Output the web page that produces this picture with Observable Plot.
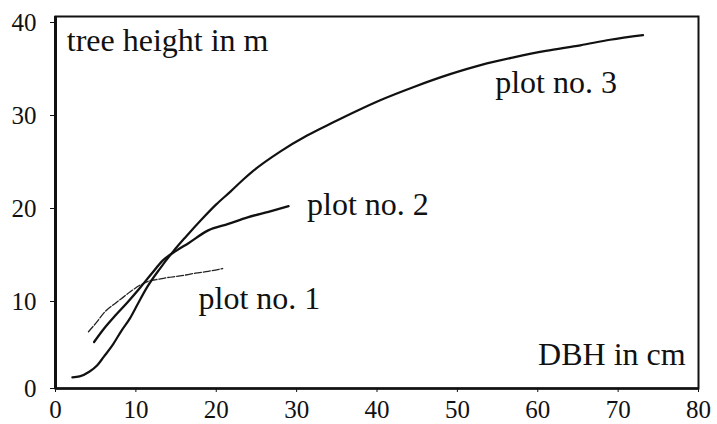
<!DOCTYPE html>
<html>
<head>
<meta charset="utf-8">
<script src="https://cdn.jsdelivr.net/npm/d3@7"></script>
<script src="https://cdn.jsdelivr.net/npm/@observablehq/plot@0.6"></script>
<style>
  html, body { margin: 0; padding: 0; background: #fff; }
  #chart svg { display: block; font-family: 'Liberation Serif', 'Times New Roman', serif; }
  #chart svg text { font-family: 'Liberation Serif', 'Times New Roman', serif; }
</style>
</head>
<body>
<div id="chart"></div>
<script>
// Plot no. 1 (thin, broken line)
const plot1Dbh = [4.1, 5.0, 6.2, 7.5, 8.4, 9.3, 10.5, 11.8, 12.5, 13.7, 15.5, 17.4, 19.0, 20.8];
const plot1H   = [6.1, 7.0, 8.3, 9.2, 9.8, 10.4, 11.1, 11.6, 11.7, 11.9, 12.1, 12.4, 12.6, 12.9];

// Plot no. 2 (medium, jagged line)
const plot2Dbh = [4.8, 6.0, 7.5, 9.0, 10.5, 12.0, 13.4, 15.0, 16.5, 19.0, 21.5, 23.9, 26.5, 29.0];
const plot2H   = [5.0, 6.4, 7.9, 9.3, 10.8, 12.4, 13.8, 14.8, 15.6, 17.0, 17.7, 18.4, 19.0, 19.6];

// Plot no. 3 (thick solid line)
const plot3Dbh = [2.1, 3.0, 4.2, 5.2, 6.0, 7.2, 8.2, 9.3, 10.3, 11.4, 13.0, 14.7, 16.2, 18.2, 20.0, 21.8, 23.4, 24.6, 28.0, 31.3, 34.5, 37.6, 40.4, 44.5, 49.1, 53.0, 57.0, 61.0, 65.3, 69.0, 73.1];
const plot3H   = [1.2, 1.3, 1.8, 2.5, 3.4, 4.8, 6.2, 7.6, 9.2, 10.9, 12.9, 14.8, 16.3, 18.2, 19.8, 21.2, 22.5, 23.4, 25.5, 27.2, 28.6, 29.9, 31.0, 32.4, 33.8, 34.8, 35.6, 36.3, 36.9, 37.5, 38.0];

const xTicks = [0, 10, 20, 30, 40, 50, 60, 70, 80];
const yTicks = [0, 10, 20, 30, 40];

// Text labels (content and anchor positions in data units)
const labelTexts  = ["tree height in m", "DBH in cm", "plot no. 3", "plot no. 2", "plot no. 1"];
const labelX      = [1.4, 78.4, 54.7, 31.3, 17.8];
const labelY      = [36.3, 2.5, 31.8, 18.7, 8.6];
const labelAnchor = ["start", "end", "start", "start", "start"];

const serif = "'Liberation Serif', 'Times New Roman', serif";
const toRows = (xs, ys) => xs.map((x, i) => ({x, y: ys[i]}));
const p1 = toRows(plot1Dbh, plot1H);
const p2 = toRows(plot2Dbh, plot2H);
const p3 = toRows(plot3Dbh, plot3H);
const labels = labelTexts.map((t, i) => ({t, x: labelX[i], y: labelY[i], a: labelAnchor[i]}));

const chart = Plot.plot({
  width: 717,
  height: 424,
  marginLeft: 55,
  marginRight: 19,
  marginTop: 16,
  marginBottom: 36,
  style: {fontFamily: serif, background: "#fff", color: "#000"},
  x: {domain: [0, 80], ticks: xTicks},
  y: {domain: [0, 40], ticks: yTicks},
  marks: [
    Plot.frame({stroke: "#111", strokeWidth: 2}),
    Plot.ruleX([0], {stroke: "#111", strokeWidth: 3}),
    Plot.ruleY([0], {stroke: "#111", strokeWidth: 2.5}),
    Plot.axisX({ticks: xTicks, tickSize: 4, tickPadding: 8, fontSize: 25, fontFamily: serif, fill: "#111", label: null, stroke: "#111"}),
    Plot.axisY({ticks: yTicks.filter(t => t > 0), tickSize: 5, tickPadding: 14, fontSize: 25, fontFamily: serif, fill: "#111", label: null, dy: 6, stroke: "#111"}),
    Plot.axisY({ticks: yTicks.filter(t => t === 0), tickSize: 5, tickPadding: 14, fontSize: 25, fontFamily: serif, fill: "#111", label: null, dy: 0, stroke: "#111"}),
    Plot.line(p1, {x: "x", y: "y", stroke: "#222", strokeWidth: 1.3, strokeDasharray: "7,2", curve: "monotone-x"}),
    Plot.line(p2, {x: "x", y: "y", stroke: "#111", strokeWidth: 2.3, curve: "monotone-x"}),
    Plot.line(p3, {x: "x", y: "y", stroke: "#111", strokeWidth: 2.2, curve: "monotone-x"}),
    Plot.text(labels.filter(d => d.a === "start"), {x: "x", y: "y", text: "t", textAnchor: "start", lineAnchor: "bottom", fontSize: 32, fontFamily: serif, fill: "#111"}),
    Plot.text(labels.filter(d => d.a === "end"), {x: "x", y: "y", text: "t", textAnchor: "end", lineAnchor: "bottom", fontSize: 32, fontFamily: serif, fill: "#111"})
  ]
});
document.getElementById("chart").appendChild(chart);
</script>
</body>
</html>
